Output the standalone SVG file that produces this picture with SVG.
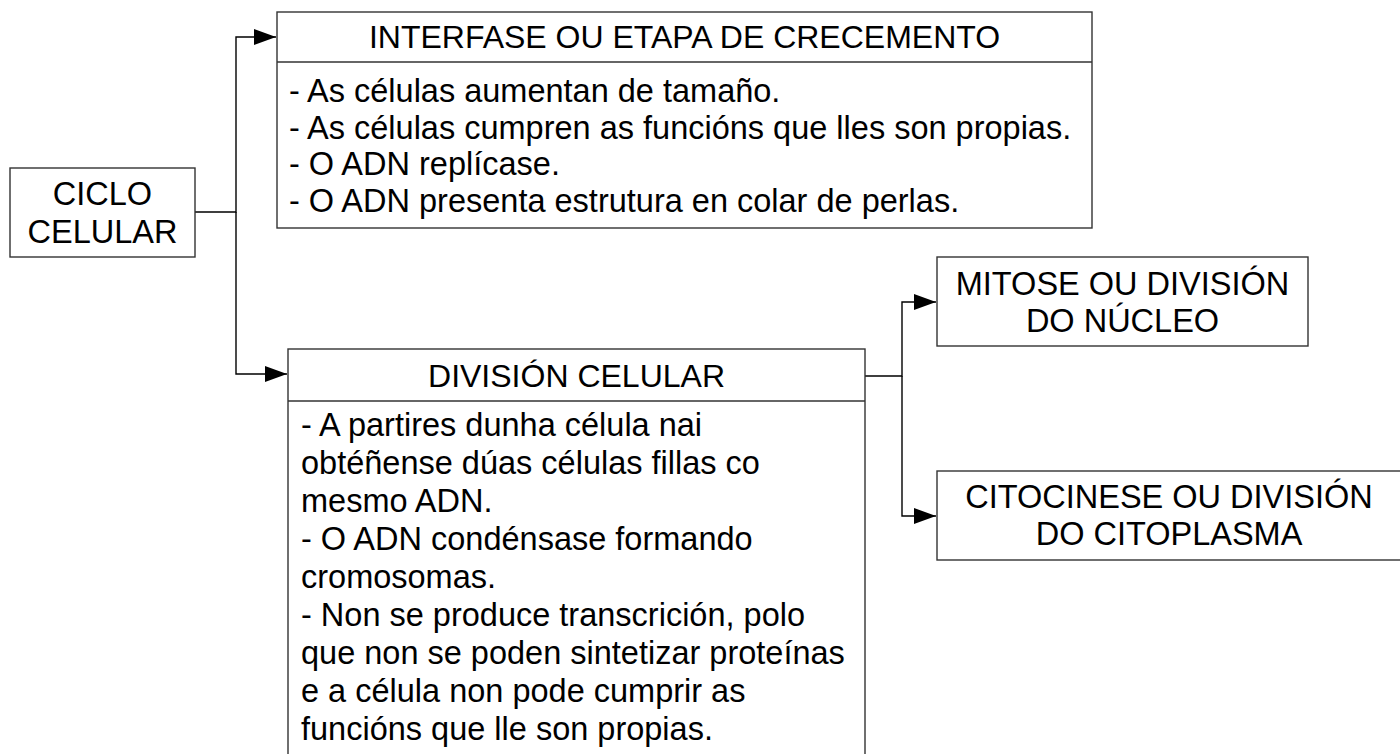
<svg xmlns="http://www.w3.org/2000/svg" width="1400" height="754" viewBox="0 0 1400 754">
<style>
.box{fill:#fff;stroke:#333;stroke-width:1.4}
.t{font-family:"Liberation Sans",Arial,sans-serif;font-size:32.5px;fill:#000}
.h{font-size:32px}
.c{text-anchor:middle}
.ln{fill:none;stroke:#000;stroke-width:1.4}
</style>
<defs>
<marker id="ah" markerWidth="22" markerHeight="16" refX="22" refY="8" orient="auto" markerUnits="userSpaceOnUse">
<path d="M0,0 L22,8 L0,16 Z" fill="#000"/>
</marker>
</defs>
<rect width="1400" height="754" fill="#fff"/>
<g id="connectors">
<path class="ln" d="M195,212 H236 V37 H276" marker-end="url(#ah)"/>
<path class="ln" d="M236,212 V374 H287" marker-end="url(#ah)"/>
<path class="ln" d="M865,376 H902 V302 H936" marker-end="url(#ah)"/>
<path class="ln" d="M902,376 V516 H936" marker-end="url(#ah)"/>
</g>
<g id="ciclo">
<rect class="box" x="10" y="168" width="185" height="89"/>
<text class="t c" x="102.5" y="205">CICLO</text>
<text class="t c" x="102.5" y="243">CELULAR</text>
</g>
<g id="interfase">
<rect class="box" x="277" y="12" width="815" height="216"/>
<line class="box" x1="277" y1="62" x2="1092" y2="62"/>
<text class="t h c" x="684.5" y="48">INTERFASE OU ETAPA DE CRECEMENTO</text>
<text class="t" x="289" y="102">- As células aumentan de tamaño.</text>
<text class="t" x="289" y="138.5">- As células cumpren as funcións que lles son propias.</text>
<text class="t" x="289" y="175">- O ADN replícase.</text>
<text class="t" x="289" y="211.5">- O ADN presenta estrutura en colar de perlas.</text>
</g>
<g id="division">
<rect class="box" x="288" y="349" width="577" height="420"/>
<line class="box" x1="288" y1="401" x2="865" y2="401"/>
<text class="t h c" x="576.5" y="387">DIVISIÓN CELULAR</text>
<text class="t" x="301" y="436">- A partires dunha célula nai</text>
<text class="t" x="301" y="474">obtéñense dúas células fillas co</text>
<text class="t" x="301" y="512">mesmo ADN.</text>
<text class="t" x="301" y="550">- O ADN condénsase formando</text>
<text class="t" x="301" y="588">cromosomas.</text>
<text class="t" x="301" y="626">- Non se produce transcrición, polo</text>
<text class="t" x="301" y="664">que non se poden sintetizar proteínas</text>
<text class="t" x="301" y="702">e a célula non pode cumprir as</text>
<text class="t" x="301" y="740">funcións que lle son propias.</text>
</g>
<g id="mitose">
<rect class="box" x="937" y="257" width="371" height="89"/>
<text class="t c" x="1122.5" y="295">MITOSE OU DIVISIÓN</text>
<text class="t c" x="1122.5" y="332">DO NÚCLEO</text>
</g>
<g id="citocinese">
<rect class="box" x="937" y="471" width="470" height="89"/>
<text class="t c" x="1169" y="508">CITOCINESE OU DIVISIÓN</text>
<text class="t c" x="1169" y="545">DO CITOPLASMA</text>
</g>
</svg>
